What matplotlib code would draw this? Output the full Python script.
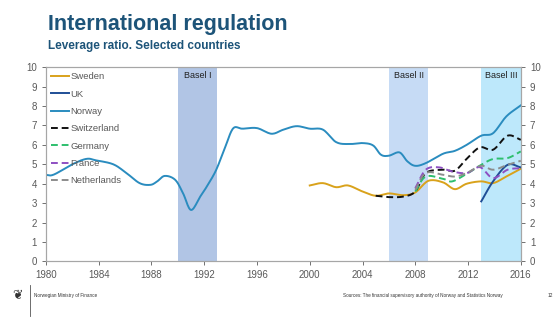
import numpy as np
import matplotlib
matplotlib.use("Agg")
import matplotlib.pyplot as plt

plt.rcParams['font.family'] = ['Liberation Sans', 'DejaVu Sans']

# Data (leverage ratio, per cent)
norway_years = [1980.0, 1980.6, 1982.1, 1983.1, 1983.8, 1985.1, 1986.1, 1987.1, 1987.9, 1988.4,
                1989.0, 1989.8, 1990.4, 1991.0, 1991.7, 1992.2, 1992.9, 1993.6, 1994.2, 1994.9,
                1996.0, 1997.1, 1998.0, 1999.0, 2000.0, 2001.0, 2002.0, 2003.0, 2004.0, 2004.8,
                2005.4, 2006.0, 2006.8, 2007.4, 2008.0, 2008.8, 2010.1, 2011.0, 2011.9, 2013.0,
                2013.9, 2014.9, 2016.0]
norway = [4.45, 4.47, 5.03, 5.28, 5.2, 5.0, 4.55, 4.03, 3.94, 4.1,
          4.4, 4.2, 3.5, 2.65, 3.34, 3.86, 4.7, 5.9, 6.85, 6.83,
          6.86, 6.57, 6.78, 6.96, 6.83, 6.78, 6.14, 6.04, 6.09, 5.97,
          5.49, 5.44, 5.61, 5.15, 4.92, 5.06, 5.54, 5.69, 6.0, 6.47,
          6.6, 7.46, 8.03]

sweden_years = [2000.0, 2001.0, 2002.0, 2002.9, 2004.0, 2005.0, 2006.0, 2007.1, 2008.0, 2009.0,
                2010.1, 2011.0, 2011.9, 2013.0, 2013.9, 2014.9, 2016.0]
sweden = [3.91, 4.03, 3.82, 3.91, 3.6, 3.38, 3.5, 3.41, 3.55, 4.15,
          4.07, 3.72, 4.0, 4.12, 4.03, 4.37, 4.77]

uk_years = [2013.0, 2013.9, 2015.0, 2016.0]
uk = [3.09, 4.12, 4.97, 4.84]

switz_years = [2005.0, 2006.0, 2007.1, 2008.0, 2008.8, 2010.1, 2011.0, 2011.9, 2012.9, 2013.9, 2015.0, 2016.0]
switzerland = [3.38, 3.31, 3.34, 3.6, 4.55, 4.72, 4.67, 5.28, 5.87, 5.75, 6.47, 6.26]

germany_years = [2008.0, 2008.8, 2010.1, 2010.8, 2011.9, 2013.0, 2013.9, 2015.0, 2016.0]
germany = [3.6, 4.37, 4.25, 4.12, 4.51, 4.97, 5.27, 5.32, 5.66]

france_years = [2008.0, 2008.8, 2009.8, 2010.8, 2011.9, 2012.9, 2013.9, 2015.0, 2016.0]
france = [3.77, 4.72, 4.84, 4.63, 4.55, 4.85, 4.29, 4.72, 4.8]

nl_years = [2008.0, 2008.8, 2010.1, 2011.0, 2011.9, 2013.0, 2013.9, 2015.0, 2016.0]
netherlands = [3.69, 4.55, 4.46, 4.37, 4.55, 4.92, 4.72, 4.97, 5.18]

basel_names = ['Basel I', 'Basel II', 'Basel III']
basel_start = [1990, 2006, 2013]
basel_end = [1993, 2009, 2016]
basel_colors = ['#b1c5e5', '#c6dbf5', '#bde8fb']


def smooth(x, y, n=12):
    # Catmull-Rom style smoothing to mimic the spreadsheet's smoothed lines
    x = np.asarray(x, float)
    y = np.asarray(y, float)
    if len(x) < 3:
        return x, y
    xs, ys = [], []
    px = np.concatenate([[2 * x[0] - x[1]], x, [2 * x[-1] - x[-2]]])
    py = np.concatenate([[2 * y[0] - y[1]], y, [2 * y[-1] - y[-2]]])
    for i in range(1, len(px) - 2):
        t = np.linspace(0, 1, n, endpoint=False)
        for arr, out in ((px, xs), (py, ys)):
            p0, p1, p2, p3 = arr[i - 1], arr[i], arr[i + 1], arr[i + 2]
            m1 = (p2 - p0) / 2
            m2 = (p3 - p1) / 2
            h00 = 2 * t**3 - 3 * t**2 + 1
            h10 = t**3 - 2 * t**2 + t
            h01 = -2 * t**3 + 3 * t**2
            h11 = t**3 - t**2
            out.extend(h00 * p1 + h10 * m1 + h01 * p2 + h11 * m2)
    xs.append(x[-1])
    ys.append(y[-1])
    return np.array(xs), np.array(ys)


fig = plt.figure(figsize=(5.6, 3.24), dpi=100)
ax = fig.add_axes([0.082, 0.193, 0.848, 0.600])

grey = '#595959'
for name, s, e, c in zip(basel_names, basel_start, basel_end, basel_colors):
    ax.axvspan(s, e, color=c, lw=0, zorder=0)
    ax.text((s + e) / 2, 9.55, name, ha='center', va='center', fontsize=6.5, color='#222222')

series = [
    ('Sweden', sweden_years, sweden, '#d9a21b', '-'),
    ('UK', uk_years, uk, '#1f4e96', '-'),
    ('Norway', norway_years, norway, '#2a8cbf', '-'),
    ('Switzerland', switz_years, switzerland, '#111111', (0, (3.5, 2))),
    ('Germany', germany_years, germany, '#2ebf6e', (0, (3.5, 2))),
    ('France', france_years, france, '#8e4fc2', (0, (3.5, 2))),
    ('Netherlands', nl_years, netherlands, '#8c8c8c', (0, (3.5, 2))),
]
for label, xs, ys, col, ls in series:
    sx, sy = smooth(xs, ys)
    ax.plot(sx, sy, color=col, ls=ls, lw=1.4, label=label, zorder=3)

ax.set_xlim(1980, 2016)
ax.set_ylim(0, 10)
ax.set_xticks(range(1980, 2017, 4))
ax.set_yticks(range(0, 11))
ax.tick_params(colors=grey, labelsize=7, length=3, width=0.6, labelcolor=grey)
for sp in ax.spines.values():
    sp.set_color('#a6a6a6')
    sp.set_linewidth(0.8)

ax2 = ax.twinx()
ax2.set_ylim(0, 10)
ax2.set_yticks(range(0, 11))
ax2.tick_params(colors=grey, labelsize=7, length=3, width=0.6, labelcolor=grey)
for sp in ax2.spines.values():
    sp.set_color('#a6a6a6')
    sp.set_linewidth(0.8)

leg = ax.legend(loc='upper left', frameon=False, fontsize=6.8, handlelength=1.9,
                handletextpad=0.15, labelspacing=0.88, borderaxespad=0.15,
                bbox_to_anchor=(0.0, 1.0))
for t in leg.get_texts():
    t.set_color(grey)

fig.text(0.086, 0.925, 'International regulation', fontsize=15.5, fontweight='bold',
         color='#1d5479', va='center')
fig.text(0.086, 0.858, 'Leverage ratio. Selected countries', fontsize=8.5, fontweight='bold',
         color='#1d5479', va='center')

# footer
fig.add_artist(plt.Line2D([0.054, 0.054], [0.025, 0.12], color='#555555', lw=0.6))
fig.text(0.032, 0.087, '\u2766', fontsize=9, color='#333333', ha='center', va='center')
fig.text(0.060, 0.087, 'Norwegian Ministry of Finance', fontsize=3.3, color='#333333', va='center')
fig.text(0.612, 0.087, 'Sources: The financial supervisory authority of Norway and Statistics Norway',
         fontsize=3.3, color='#333333', va='center')
fig.text(0.978, 0.087, '12', fontsize=3.5, color='#333333', va='center')

fig.savefig('out.png', dpi=100)
